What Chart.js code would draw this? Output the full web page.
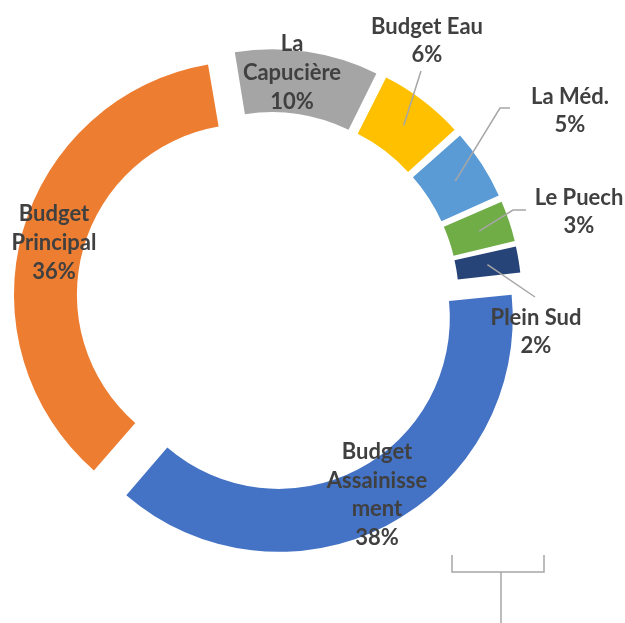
<!DOCTYPE html>
<html><head><meta charset="utf-8">
<script src="https://cdn.jsdelivr.net/npm/chart.js@4.4.1/dist/chart.umd.min.js"></script>
<style>html,body{margin:0;padding:0;background:#fff;overflow:hidden}canvas{display:block}</style>
</head><body>
<canvas id="c" width="625" height="623"></canvas>
<script>
// ---- data ----
const categories = ['La Capucière', 'Budget Eau', 'La Méd.', 'Le Puech', 'Plein Sud', 'Budget Assainissement', 'Budget Principal'];
const values = [10, 6, 5, 3, 2, 38, 36];
const labelNameLines = [['La', 'Capucière'], ['Budget Eau'], ['La Méd.'], ['Le Puech'], ['Plein Sud'], ['Budget', 'Assainisse', 'ment'], ['Budget', 'Principal']];

// ---- style ----
const colors = ['#A5A5A5', '#FFC000', '#5B9BD5', '#70AD47', '#264478', '#4472C4', '#ED7D31'];
const explode = [68, 59, 57, 53, 51, 76, 94];
// label block centres and leader points, relative to the doughnut centre
const labelLayout = [
  { pos: [22, -228] },
  { pos: [157, -260], leader: [[151, -230]] },
  { pos: [300, -190], leader: [[230, -193], [240, -193]] },
  { pos: [309, -89], leader: [[243, -91], [256, -91]] },
  { pos: [266, 31], leader: [[265, -4]] },
  { pos: [107, 194] },
  { pos: [-216, -58] }
];

const labelPlugin = {
  id: 'sliceLabels',
  afterDatasetsDraw(chart) {
    const meta = chart.getDatasetMeta(0);
    const ctx = chart.ctx;
    const total = values.reduce((a, b) => a + b, 0);
    const ca = chart.chartArea;
    const cx = (ca.left + ca.right) / 2;
    const cy = (ca.top + ca.bottom) / 2;
    ctx.save();
    ctx.strokeStyle = '#A6A6A6';
    ctx.lineWidth = 1.5;
    meta.data.forEach((arc, i) => {
      const L = labelLayout[i];
      if (!L.leader) return;
      const p = arc.getProps(['x', 'y', 'startAngle', 'endAngle', 'innerRadius', 'outerRadius']);
      const t = (arc.options.offset || 0) / 4;
      const circ = p.endAngle - p.startAngle;
      const fix = 1 - Math.sin(Math.min(Math.PI, circ));
      const h = (p.startAngle + p.endAngle) / 2;
      const rr = t + (p.innerRadius + p.outerRadius) / 2 + t * fix;
      ctx.beginPath();
      ctx.moveTo(p.x + Math.cos(h) * rr, p.y + Math.sin(h) * rr);
      L.leader.forEach(pt => ctx.lineTo(cx + pt[0], cy + pt[1]));
      ctx.stroke();
    });
    // stray leader bracket (bottom right)
    ctx.beginPath();
    ctx.moveTo(cx + 182, cy + 254); ctx.lineTo(cx + 182, cy + 271);
    ctx.lineTo(cx + 274, cy + 271); ctx.lineTo(cx + 274, cy + 254);
    ctx.moveTo(cx + 231, cy + 271); ctx.lineTo(cx + 231, cy + 330);
    ctx.stroke();

    ctx.fillStyle = '#404040';
    ctx.font = 'bold 22px Lato';
    ctx.textAlign = 'center';
    ctx.textBaseline = 'middle';
    const lh = 28.7;
    values.forEach((v, i) => {
      const lines = labelNameLines[i].concat([Math.round(v / total * 100) + '%']);
      const L = labelLayout[i];
      const x = cx + L.pos[0];
      const y0 = cy + L.pos[1] - (lines.length - 1) * lh / 2;
      lines.forEach((s, k) => ctx.fillText(s, x, y0 + k * lh));
    });
    ctx.restore();
  }
};

new Chart(document.getElementById('c'), {
  type: 'doughnut',
  data: {
    labels: categories,
    datasets: [{
      data: values,
      backgroundColor: colors,
      borderWidth: 0,
      offset: explode
    }]
  },
  options: {
    responsive: false,
    animation: false,
    rotation: -9.5,
    radius: 228,
    cutout: '72.4%',
    layout: { padding: { left: 0, right: 85, top: 0, bottom: 21 } },
    plugins: { legend: { display: false }, tooltip: { enabled: false } },
    events: []
  },
  plugins: [labelPlugin]
});
</script>
</body></html>
